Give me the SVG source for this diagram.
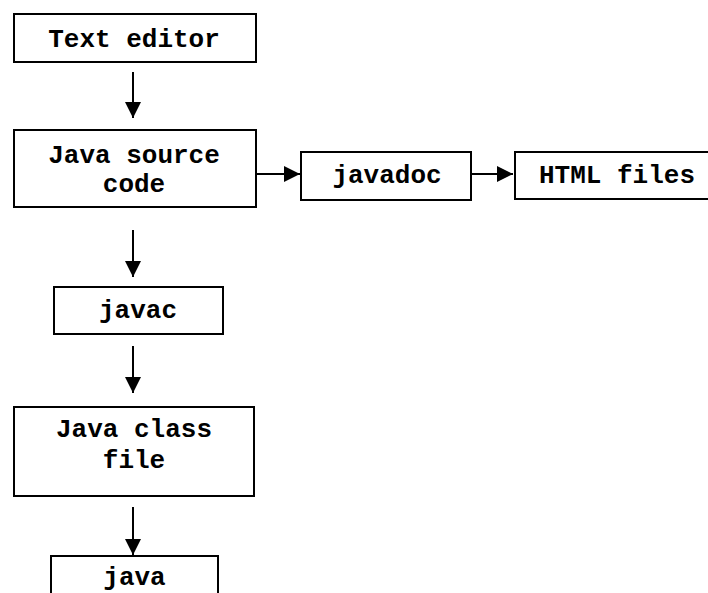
<svg xmlns="http://www.w3.org/2000/svg" width="708" height="593" viewBox="0 0 708 593">
  <style>
    .box { fill: #ffffff; stroke: #000000; stroke-width: 2; }
    .lbl { font-family: "Liberation Mono", "Courier New", monospace; font-weight: bold; font-size: 26px; fill: #000000; text-anchor: middle; }
    .conn { stroke: #000000; stroke-width: 2; fill: none; marker-end: url(#head); }
  </style>
  <defs>
    <marker id="head" markerUnits="userSpaceOnUse" markerWidth="16" markerHeight="16" viewBox="0 0 16 16" refX="16" refY="8" orient="auto">
      <path d="M0,0 L16,8 L0,16 Z" fill="#000000"/>
    </marker>
  </defs>
  <rect width="708" height="593" fill="#ffffff"/>

  <g id="connectors">
    <line class="conn" x1="133" y1="72" x2="133" y2="118"/>
    <line class="conn" x1="133" y1="230" x2="133" y2="277"/>
    <line class="conn" x1="133" y1="346" x2="133" y2="393"/>
    <line class="conn" x1="133" y1="507" x2="133" y2="555"/>
    <line class="conn" x1="256" y1="174" x2="300" y2="174"/>
    <line class="conn" x1="471" y1="174" x2="513" y2="174"/>
  </g>

  <g id="text-editor">
    <rect class="box" x="14" y="14" width="242" height="48"/>
    <text class="lbl" x="134" y="47">Text editor</text>
  </g>
  <g id="java-source">
    <rect class="box" x="14" y="130" width="242" height="77"/>
    <text class="lbl" x="134" y="163">Java source</text>
    <text class="lbl" x="134" y="192">code</text>
  </g>
  <g id="javadoc">
    <rect class="box" x="301" y="152" width="170" height="48"/>
    <text class="lbl" x="387" y="183">javadoc</text>
  </g>
  <g id="html-files">
    <rect class="box" x="515" y="152" width="206" height="47"/>
    <text class="lbl" x="617" y="183">HTML files</text>
  </g>
  <g id="javac">
    <rect class="box" x="54" y="287" width="169" height="47"/>
    <text class="lbl" x="138" y="318">javac</text>
  </g>
  <g id="java-class">
    <rect class="box" x="14" y="407" width="240" height="89"/>
    <text class="lbl" x="134" y="437">Java class</text>
    <text class="lbl" x="134" y="468">file</text>
  </g>
  <g id="java">
    <rect class="box" x="51" y="556" width="167" height="60"/>
    <text class="lbl" x="134.5" y="585">java</text>
  </g>
</svg>
